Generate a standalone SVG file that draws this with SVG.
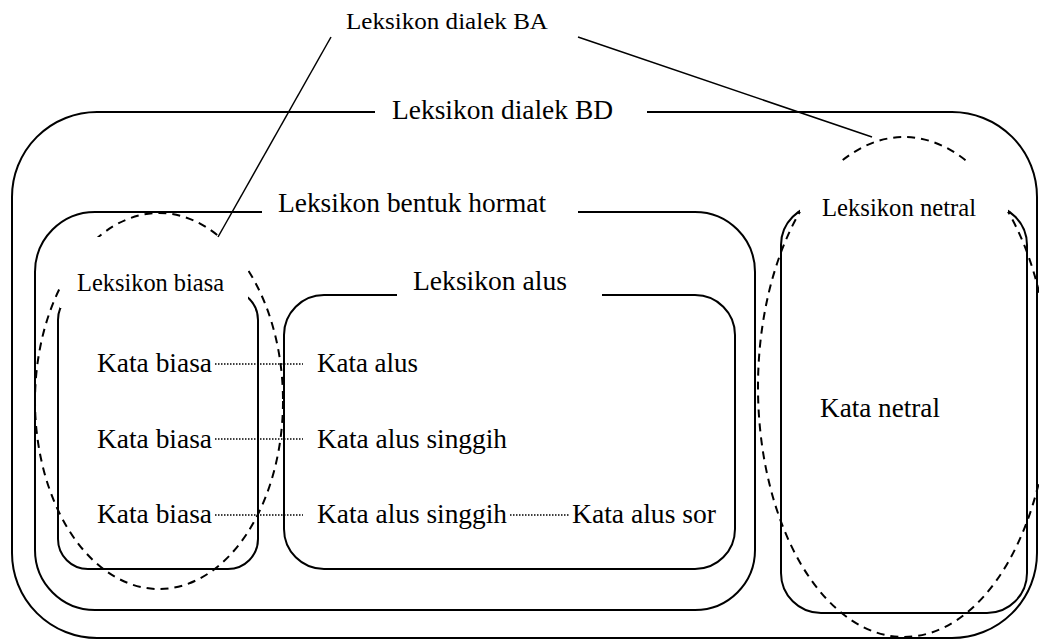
<svg xmlns="http://www.w3.org/2000/svg" width="1039" height="640" viewBox="0 0 1039 640">
  <style>
    .frame { fill: none; stroke: #000; stroke-width: 2; }
    .oval { fill: none; stroke: #000; stroke-width: 2; stroke-dasharray: 8 6; }
    .mask { fill: #fff; stroke: none; }
    .lbl { font-family: "Liberation Serif", "Times New Roman", serif; fill: #000; }
    .word { font-family: "Liberation Serif", "Times New Roman", serif; font-size: 26.5px; fill: #000; }
    .link { stroke: #000; stroke-width: 1.5; fill: none; }
    .dots { stroke: #000; stroke-width: 1.6; stroke-dasharray: 1.5 1.5; fill: none; }
  </style>
  <rect width="1039" height="640" fill="#fff"/>

  <!-- Leksikon dialek BD: outermost frame -->
  <g id="dialek-bd">
    <rect class="frame" x="12" y="112" width="1025" height="526" rx="85" ry="85"/>
    <rect class="mask" x="375" y="95" width="272" height="32"/>
    <text class="lbl" x="392" y="119" font-size="27" textLength="221" lengthAdjust="spacingAndGlyphs">Leksikon dialek BD</text>
  </g>

  <!-- Leksikon bentuk hormat -->
  <g id="bentuk-hormat">
    <rect class="frame" x="35" y="212" width="720" height="398" rx="60" ry="60"/>
    <rect class="mask" x="262" y="190" width="316" height="32"/>
    <text class="lbl" x="278" y="212" font-size="27" textLength="268" lengthAdjust="spacingAndGlyphs">Leksikon bentuk hormat</text>
  </g>

  <!-- Leksikon biasa -->
  <g id="biasa">
    <rect class="frame" x="58" y="290" width="200" height="279" rx="30" ry="30"/>
    <ellipse class="oval" cx="159" cy="401" rx="124" ry="188"/>
    <rect class="mask" x="60" y="237" width="188" height="71"/>
    <text class="lbl" x="77" y="291" font-size="25.5" textLength="147" lengthAdjust="spacingAndGlyphs">Leksikon biasa</text>
  </g>

  <!-- Leksikon alus -->
  <g id="alus">
    <rect class="frame" x="284" y="295" width="451" height="274" rx="40" ry="40"/>
    <rect class="mask" x="397" y="270" width="205" height="36"/>
    <text class="lbl" x="413" y="290" font-size="27" textLength="154" lengthAdjust="spacingAndGlyphs">Leksikon alus</text>
  </g>

  <!-- Leksikon netral -->
  <g id="netral">
    <rect class="frame" x="781" y="205" width="246" height="408" rx="40" ry="40"/>
    <ellipse class="oval" cx="904" cy="387" rx="146" ry="250"/>
    <rect class="mask" x="800" y="162" width="208" height="50"/>
    <text class="lbl" x="822" y="216" font-size="25.5" textLength="154" lengthAdjust="spacingAndGlyphs">Leksikon netral</text>
  </g>

  <!-- Leksikon dialek BA: free label -->
  <g id="dialek-ba">
    <text class="lbl" x="346" y="29" font-size="22.5" textLength="202" lengthAdjust="spacingAndGlyphs">Leksikon dialek BA</text>
  </g>

  <!-- word entries -->
  <g id="kata-biasa-1"><text class="word" x="97" y="372" textLength="115" lengthAdjust="spacingAndGlyphs">Kata biasa</text></g>
  <g id="kata-biasa-2"><text class="word" x="97" y="448" textLength="115" lengthAdjust="spacingAndGlyphs">Kata biasa</text></g>
  <g id="kata-biasa-3"><text class="word" x="97" y="523" textLength="115" lengthAdjust="spacingAndGlyphs">Kata biasa</text></g>
  <g id="kata-alus"><text class="word" x="317" y="372" textLength="101" lengthAdjust="spacingAndGlyphs">Kata alus</text></g>
  <g id="kata-alus-singgih-1"><text class="word" x="317" y="448" textLength="190" lengthAdjust="spacingAndGlyphs">Kata alus singgih</text></g>
  <g id="kata-alus-singgih-2"><text class="word" x="317" y="523" textLength="190" lengthAdjust="spacingAndGlyphs">Kata alus singgih</text></g>
  <g id="kata-alus-sor"><text class="word" x="572" y="523" textLength="144" lengthAdjust="spacingAndGlyphs">Kata alus sor</text></g>
  <g id="kata-netral"><text class="word" x="820" y="417" textLength="120" lengthAdjust="spacingAndGlyphs">Kata netral</text></g>

  <!-- connectors -->
  <g id="connectors">
    <line class="link" x1="331" y1="37" x2="218" y2="237"/>
    <line class="link" x1="578" y1="37" x2="872" y2="137"/>
    <line class="dots" x1="215" y1="364" x2="303" y2="364"/>
    <line class="dots" x1="215" y1="439" x2="303" y2="439"/>
    <line class="dots" x1="215" y1="515" x2="303" y2="515"/>
    <line class="dots" x1="510" y1="515" x2="570" y2="515"/>
  </g>
</svg>
